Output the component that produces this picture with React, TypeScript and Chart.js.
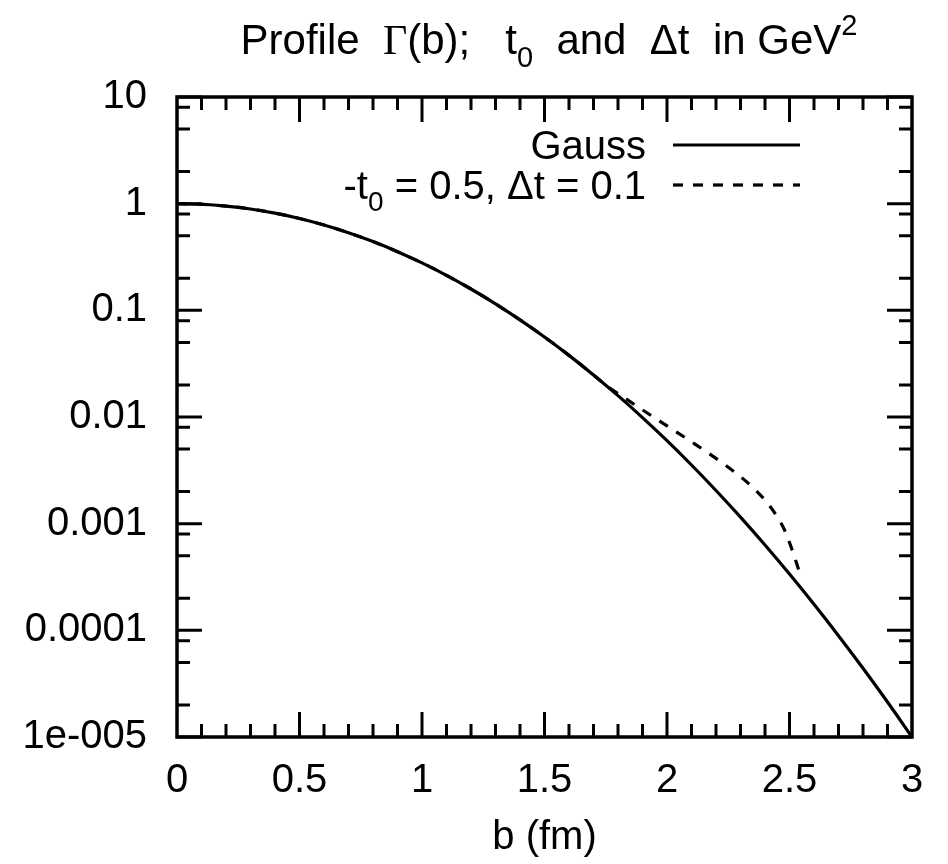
import React, { useEffect, useRef } from 'react';
import { Chart, registerables } from 'chart.js';

Chart.register(...registerables);

// ---- data ----
const gaussB = [0, 0.1, 0.2, 0.3, 0.4, 0.5, 0.6, 0.7, 0.8, 0.9, 1.0, 1.1, 1.2, 1.3, 1.4, 1.5, 1.6, 1.7, 1.8, 1.9, 2.0, 2.1, 2.2, 2.3, 2.4, 2.5, 2.6, 2.7, 2.8, 2.9, 3.0];
const gaussValues = [1, 0.9873, 0.9501, 0.8913, 0.8149, 0.7262, 0.631, 0.5342, 0.441, 0.3548, 0.2783, 0.2127, 0.1585, 0.1151, 0.08149, 0.05623, 0.03783, 0.0248, 0.01585, 0.009873, 0.005995, 0.003548, 0.002047, 0.001151, 0.000631, 0.0003372, 0.0001755, 0.0000891, 0.0000441, 0.00002127, 0.00001];

const modelB = [0, 0.1, 0.2, 0.3, 0.4, 0.5, 0.6, 0.7, 0.8, 0.9, 1.0, 1.1, 1.2, 1.3, 1.4, 1.5, 1.6, 1.7, 1.75, 1.8, 1.9, 2.0, 2.1, 2.2, 2.3, 2.35, 2.4, 2.45, 2.48, 2.51, 2.54];
const modelValues = [1, 0.9873, 0.9501, 0.8913, 0.8149, 0.7262, 0.631, 0.5342, 0.441, 0.3548, 0.2783, 0.2127, 0.1585, 0.1151, 0.08149, 0.05623, 0.03783, 0.0248, 0.0199, 0.0166, 0.01167, 0.00826, 0.00585, 0.00409, 0.00276, 0.00219, 0.00166, 0.00116, 0.00087, 0.000575, 0.000355];

const xTickValues = [0, 0.5, 1, 1.5, 2, 2.5, 3];
const xTickLabels = ['0', '0.5', '1', '1.5', '2', '2.5', '3'];
const yTickValues = [10, 1, 0.1, 0.01, 0.001, 0.0001, 0.00001];
const yTickLabels = ['10', '1', '0.1', '0.01', '0.001', '0.0001', '1e-005'];
const yMinorMantissas = [2, 5, 8];

const SANS = '"Liberation Sans", Arial, Helvetica, sans-serif';
const SERIF = '"Liberation Serif", "Times New Roman", serif';
const FS = 40;
const TITLE_FS = 42;

type Seg = { t: string; serif?: boolean; pos?: 'sub' | 'sup' };

function segFont(s: Seg, size: number) {
  const sz = s.pos ? Math.round(size * 0.7) : size;
  return `${sz}px ${s.serif ? SERIF : SANS}`;
}

function drawRich(ctx: CanvasRenderingContext2D, segs: Seg[], x: number, y: number, align: 'left' | 'center' | 'right', size: number) {
  ctx.save();
  ctx.textBaseline = 'alphabetic';
  ctx.textAlign = 'left';
  ctx.fillStyle = '#000';
  let total = 0;
  const widths = segs.map((s) => {
    ctx.font = segFont(s, size);
    const w = ctx.measureText(s.t).width;
    total += w;
    return w;
  });
  let cx = align === 'left' ? x : align === 'center' ? x - total / 2 : x - total;
  segs.forEach((s, i) => {
    ctx.font = segFont(s, size);
    const dy = s.pos === 'sub' ? size * 0.3 : s.pos === 'sup' ? -size * 0.45 : 0;
    ctx.fillText(s.t, cx, y + dy);
    cx += widths[i];
  });
  ctx.restore();
}

const titleSegs: Seg[] = [
  { t: 'Profile  ' },
  { t: 'Γ', serif: true },
  { t: '(b);   t' },
  { t: '0', pos: 'sub' },
  { t: '  and  Δt  in GeV' },
  { t: '2', pos: 'sup' },
];

const legendRows: Seg[][] = [
  [{ t: 'Gauss' }],
  [{ t: '-t' }, { t: '0', pos: 'sub' }, { t: ' = 0.5, Δt = 0.1' }],
];

const framePlugin = {
  id: 'gnuFrame',
  afterDatasetsDraw(chart: any) {
    const { ctx, chartArea } = chart;
    const { left, right, top, bottom } = chartArea;
    const xs = chart.scales.x;
    const ys = chart.scales.y;
    ctx.save();
    ctx.strokeStyle = '#000';
    ctx.lineCap = 'butt';
    ctx.lineWidth = 3;
    const MAJ = 25;
    const MIN = 13;
    ctx.beginPath();
    for (let i = 1; i < 30; i++) {
      const v = i / 10;
      const px = xs.getPixelForValue(v);
      const len = i % 5 === 0 ? MAJ : MIN;
      ctx.moveTo(px, bottom);
      ctx.lineTo(px, bottom - len);
      ctx.moveTo(px, top);
      ctx.lineTo(px, top + len);
    }
    yTickValues.forEach((v) => {
      const py = ys.getPixelForValue(v);
      ctx.moveTo(left, py);
      ctx.lineTo(left + MAJ, py);
      ctx.moveTo(right, py);
      ctx.lineTo(right - MAJ, py);
    });
    yTickValues.slice(1).forEach((d) => {
      yMinorMantissas.forEach((m) => {
        const py = ys.getPixelForValue(d * m);
        ctx.moveTo(left, py);
        ctx.lineTo(left + MIN, py);
        ctx.moveTo(right, py);
        ctx.lineTo(right - MIN, py);
      });
    });
    ctx.stroke();
    ctx.lineWidth = 3.5;
    ctx.strokeRect(left, top, right - left, bottom - top);
    ctx.restore();
  },
  afterDraw(chart: any) {
    const { ctx } = chart;
    drawRich(ctx, titleSegs, 549, 54, 'center', TITLE_FS);
    const rowsY = [145, 185];
    const textRight = 646;
    const sampleX0 = 673;
    const sampleX1 = 800;
    legendRows.forEach((segs, i) => {
      const ds = chart.data.datasets[i];
      drawRich(ctx, segs, textRight, rowsY[i] + 14, 'right', FS);
      ctx.save();
      ctx.strokeStyle = ds.borderColor;
      ctx.lineWidth = ds.borderWidth;
      ctx.setLineDash(ds.borderDash || []);
      ctx.beginPath();
      ctx.moveTo(sampleX0, rowsY[i]);
      ctx.lineTo(sampleX1, rowsY[i]);
      ctx.stroke();
      ctx.restore();
    });
  },
};

function labelForLog(v: number) {
  const idx = yTickValues.findIndex((t) => Math.abs(Math.log10(t) - Math.log10(v)) < 1e-6);
  return idx >= 0 ? yTickLabels[idx] : '';
}

export default function App() {
  const ref = useRef<HTMLCanvasElement | null>(null);

  useEffect(() => {
    document.body.style.margin = '0';
    const canvas = ref.current;
    if (!canvas) return;
    const chart = new Chart(canvas, {
      type: 'line',
      data: {
        datasets: [
          {
            label: 'Gauss',
            data: gaussB.map((b, i) => ({ x: b, y: gaussValues[i] })),
            borderColor: '#000',
            borderWidth: 3.2,
            pointRadius: 0,
            cubicInterpolationMode: 'monotone',
            fill: false,
          },
          {
            label: '-t0 = 0.5, Δt = 0.1',
            data: modelB.map((b, i) => ({ x: b, y: modelValues[i] })),
            borderColor: '#000',
            borderWidth: 3.2,
            borderDash: [10, 10],
            pointRadius: 0,
            cubicInterpolationMode: 'monotone',
            fill: false,
          },
        ],
      },
      options: {
        animation: false,
        responsive: false,
        maintainAspectRatio: false,
        layout: { padding: { top: 97, right: 36, left: 0, bottom: 0 } },
        plugins: {
          legend: { display: false },
          title: { display: false },
          tooltip: { enabled: false },
        },
        scales: {
          x: {
            type: 'linear',
            min: 0,
            max: 3,
            grid: { display: false, drawTicks: false },
            border: { display: false },
            afterBuildTicks: (s: any) => {
              s.ticks = xTickValues.map((v) => ({ value: v }));
            },
            ticks: {
              autoSkip: false,
              maxRotation: 0,
              color: '#000',
              font: { size: FS, family: SANS },
              padding: 20,
              callback: (v: any) => {
                const idx = xTickValues.findIndex((t) => Math.abs(t - Number(v)) < 1e-9);
                return idx >= 0 ? xTickLabels[idx] : '';
              },
            },
            title: {
              display: true,
              text: 'b (fm)',
              color: '#000',
              font: { size: FS, family: SANS },
              padding: { top: 0, bottom: 2 },
            },
            afterFit: (s: any) => {
              s.height = 127;
            },
          },
          y: {
            type: 'logarithmic',
            min: 0.00001,
            max: 10,
            grid: { display: false, drawTicks: false },
            border: { display: false },
            afterBuildTicks: (s: any) => {
              s.ticks = yTickValues.map((v) => ({ value: v }));
            },
            ticks: {
              autoSkip: false,
              color: '#000',
              font: { size: FS, family: SANS },
              padding: 30,
              callback: (v: any) => labelForLog(Number(v)),
            },
            afterFit: (s: any) => {
              s.width = 177;
            },
          },
        },
      },
      plugins: [framePlugin],
    } as any);
    return () => chart.destroy();
  }, []);

  return (
    <canvas
      ref={ref}
      width={948}
      height={864}
      style={{ display: 'block', width: 948, height: 864 }}
    />
  );
}
